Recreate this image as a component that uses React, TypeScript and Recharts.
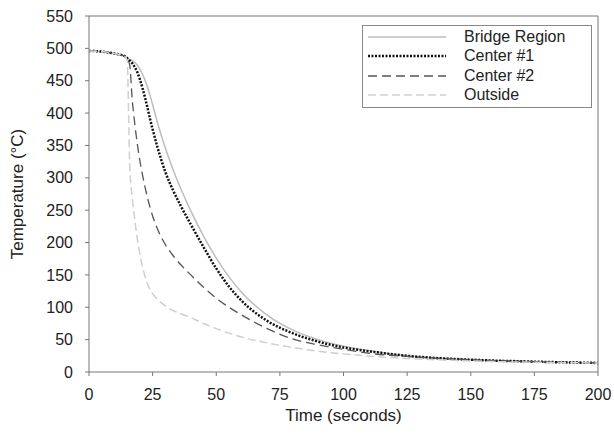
import { LineChart, Line, XAxis, YAxis, ReferenceLine } from 'recharts'

// time in seconds, shared by every series
const time = [0, 5, 10, 14, 15, 16, 17, 18, 19, 20, 21, 22, 23, 24, 25, 27, 30, 33, 36, 40, 45, 50, 55, 60, 70, 80, 90, 100, 112, 125, 150, 175, 200]

// temperatures (°C)
const bridgeRegion = [496, 495, 492, 488, 485, 483, 481, 478, 474, 468, 460, 451, 440, 427, 413, 384, 346, 313, 284, 249, 210, 176, 147, 123, 88, 65, 50, 40, 32, 25, 19, 16, 14]
const center1 = [496, 495, 492, 488, 485, 481, 477, 471, 463, 452, 439, 424, 408, 391, 375, 346, 309, 281, 257, 228, 193, 160, 132, 110, 79, 60, 47, 38, 31, 25, 19, 16, 14]
const center2 = [496, 495, 492, 488, 484, 474, 420, 383, 352, 326, 305, 286, 269, 254, 241, 220, 197, 180, 166, 150, 131, 114, 100, 88, 67, 51, 42, 35, 28, 24, 19, 16, 14]
const outside = [496, 495, 492, 488, 481, 320, 270, 235, 205, 182, 163, 148, 136, 127, 121, 112, 102, 95, 90, 84, 75, 67, 60, 54, 45, 38, 32, 28, 24, 21, 17, 15, 14]

const xTicks = [0, 25, 50, 75, 100, 125, 150, 175, 200]
const yTicks = [0, 50, 100, 150, 200, 250, 300, 350, 400, 450, 500, 550]

const range = (end: number, step: number) => {
  const out: number[] = []
  for (let v = 0; v <= end; v += step) out.push(v)
  return out
}
const xMinor = range(200, 5)
const yMinor = range(550, 10)

const rows = time.map((t, i) => ({
  t,
  bridge: bridgeRegion[i],
  c1: center1[i],
  c2: center2[i],
  out: outside[i],
}))

const series = [
  { key: 'bridge', name: 'Bridge Region', color: '#bdbdbd', width: 1.5, dash: undefined },
  { key: 'c1', name: 'Center #1', color: '#111', width: 2.5, dash: '2 1.5' },
  { key: 'c2', name: 'Center #2', color: '#555', width: 1.3, dash: '9 5' },
  { key: 'out', name: 'Outside', color: '#cfcfcf', width: 1.5, dash: '8 4' },
]

const font = 'Liberation Sans, Arial, sans-serif'
const axisColor = '#777'

function LegendBox() {
  return (
    <div
      style={{
        position: 'absolute',
        left: 362,
        top: 25,
        border: '1px solid #888',
        background: '#fff',
        width: 230,
        height: 83,
        boxSizing: 'border-box',
        padding: '1px 0 0 0',
        fontFamily: font,
        fontSize: 16,
        color: '#222',
      }}
    >
      {series.map((s) => (
        <div key={s.key} style={{ display: 'flex', alignItems: 'center', height: 19.5 }}>
          <svg width={96} height={10} style={{ marginLeft: 5 }}>
            <line x1={0} y1={5} x2={78} y2={5} stroke={s.color} strokeWidth={s.width} strokeDasharray={s.dash} />
          </svg>
          <span>{s.name}</span>
        </div>
      ))}
    </div>
  )
}

export default function App() {
  return (
    <div style={{ position: 'absolute', left: 0, top: 0, width: 614, height: 435, background: '#fff' }}>
      <LineChart width={614} height={435} data={rows} margin={{ top: 16, right: 16, left: 0, bottom: 0 }}>
        <XAxis
          dataKey="t"
          type="number"
          domain={[0, 200]}
          ticks={xTicks}
          interval={0}
          height={63}
          stroke={axisColor}
          tickSize={4}
          tickMargin={13}
          tick={{ fill: '#222', fontSize: 16, fontFamily: font }}
          label={{ value: 'Time (seconds)', position: 'insideBottom', offset: 14, fill: '#222', fontSize: 17, fontFamily: font }}
        />
        <XAxis
          xAxisId="minor"
          dataKey="t"
          type="number"
          domain={[0, 200]}
          ticks={xMinor}
          interval={0}
          height={0}
          mirror
          tick={false}
          tickSize={4}
          stroke={axisColor}
        />
        <YAxis
          type="number"
          domain={[0, 550]}
          ticks={yTicks}
          interval={0}
          width={89}
          stroke={axisColor}
          tickSize={4}
          tickMargin={12}
          tick={{ fill: '#222', fontSize: 16, fontFamily: font }}
          label={{ value: 'Temperature (°C)', angle: -90, position: 'insideLeft', offset: 17, fill: '#222', fontSize: 17, fontFamily: font, style: { textAnchor: 'middle' } }}
        />
        <YAxis
          yAxisId="minor"
          type="number"
          domain={[0, 550]}
          ticks={yMinor}
          interval={0}
          width={0}
          mirror
          tick={false}
          tickSize={4}
          stroke={axisColor}
        />
        <ReferenceLine y={550} stroke={axisColor} />
        <ReferenceLine x={200} stroke={axisColor} />
        {series.map((s) => (
          <Line
            key={s.key}
            dataKey={s.key}
            name={s.name}
            type="monotone"
            stroke={s.color}
            strokeWidth={s.width}
            strokeDasharray={s.dash}
            dot={false}
            isAnimationActive={false}
          />
        ))}
      </LineChart>
      <LegendBox />
    </div>
  )
}
